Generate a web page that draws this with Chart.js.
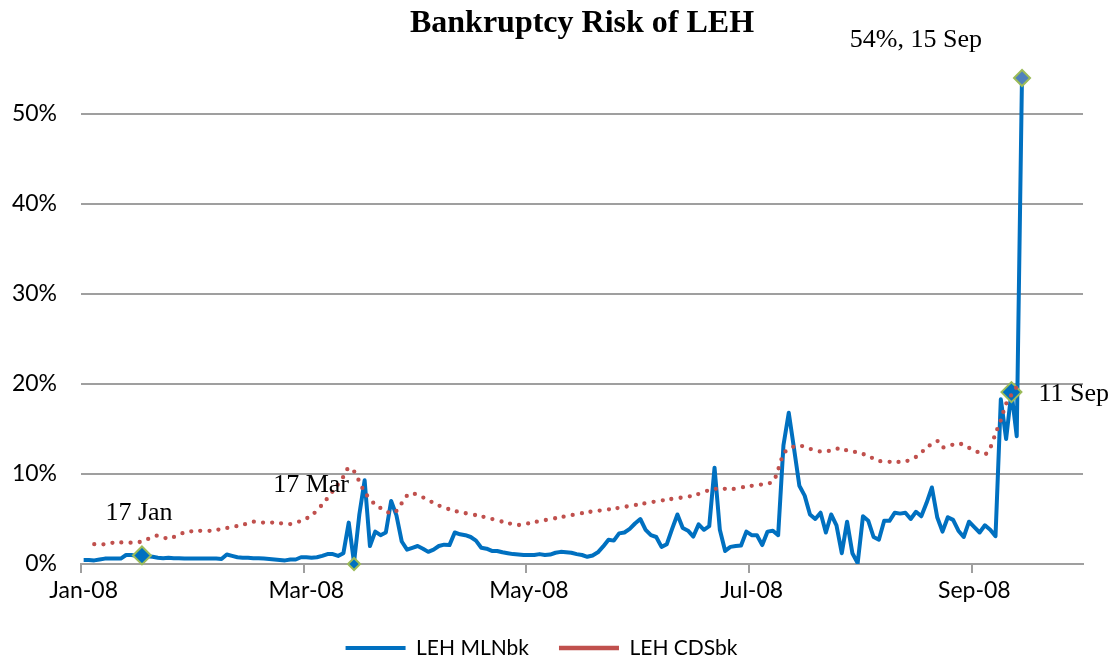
<!DOCTYPE html>
<html>
<head>
<meta charset="utf-8">
<script src="https://cdn.jsdelivr.net/npm/chart.js@4/dist/chart.umd.min.js"></script>
<style>
  html, body { margin: 0; padding: 0; background: #fff; }
</style>
</head>
<body>
<canvas id="lehChart" width="1113" height="662"></canvas>
<script>
/* ---- categories: trading days Jan 2 - Sep 30, 2008 ---- */
var holidays = ["2008-01-21", "2008-02-18", "2008-03-21", "2008-05-26", "2008-07-04", "2008-09-01"];
var days = [];
for (var t = Date.UTC(2008, 0, 2); t <= Date.UTC(2008, 8, 30); t += 86400000) {
  var d = new Date(t);
  var s = d.toISOString().slice(0, 10);
  if (d.getUTCDay() % 6 !== 0 && holidays.indexOf(s) < 0) days.push(s);
}

var tickLabels = ["Jan-08", "Mar-08", "May-08", "Jul-08", "Sep-08"];
var tickEvery = 42;

/* ---- LEH MLNbk, one value per trading day up to 15 Sep (%) ---- */
var mlnValues = [
  0.45, 0.45, 0.4, 0.5, 0.6, 0.6, 0.6, 0.6, 1.0, 1.0,
  0.9, 0.95, 0.85, 0.8, 0.7, 0.65, 0.7, 0.65, 0.65, 0.6,
  0.6, 0.6, 0.6, 0.6, 0.6, 0.6, 0.55, 1.05, 0.9, 0.75,
  0.7, 0.7, 0.65, 0.65, 0.6, 0.55, 0.5, 0.45, 0.4, 0.5,
  0.5, 0.75, 0.75, 0.7, 0.75, 0.9, 1.1, 1.1, 0.9, 1.2,
  4.6, 0.15, 5.5, 9.3, 2.0, 3.6, 3.2, 3.5, 7.0, 5.4,
  2.5, 1.6, 1.8, 2.0, 1.7, 1.35, 1.6, 2.0, 2.15, 2.1,
  3.5, 3.3, 3.2, 3.0, 2.6, 1.8, 1.7, 1.45, 1.45, 1.3,
  1.2, 1.1, 1.05, 1.0, 1.0, 1.0, 1.1, 1.0, 1.05, 1.25,
  1.35, 1.3, 1.25, 1.1, 1.0, 0.8, 0.95, 1.3, 1.95, 2.7,
  2.6, 3.4, 3.5, 3.9, 4.5, 5.0, 3.8, 3.2, 3.0, 1.9,
  2.2, 3.9, 5.5, 4.0, 3.7, 3.05, 4.4, 3.8, 4.2, 10.7,
  3.8, 1.45, 1.9, 2.0, 2.05, 3.6, 3.2, 3.2, 2.1, 3.6,
  3.7, 3.2, 13.2, 16.8, 12.8, 8.7, 7.6, 5.5, 5.0, 5.7,
  3.5, 5.5, 4.3, 1.2, 4.7, 1.2, 0.1, 5.3, 4.8, 3.0,
  2.7, 4.8, 4.8, 5.7, 5.6, 5.7, 5.0, 5.8, 5.3, 6.8,
  8.5, 5.2, 3.6, 5.2, 4.9, 3.7, 3.0, 4.7, 4.1, 3.5,
  4.3, 3.8, 3.1, 18.3, 13.9, 19.1, 14.2, 54.5
];

/* ---- LEH CDSbk, read at these trading-day positions (%) ---- */
var cdsIdx = [2, 4, 6, 9, 11, 13, 14, 16, 17, 19, 21, 24, 27, 30, 32, 34, 36, 39, 41, 43,
  45, 47, 49, 50, 51, 53, 55, 57, 58, 59, 61, 62, 64, 67, 70, 75, 80, 82, 85, 90,
  95, 100, 105, 110, 115, 118, 120, 122, 125, 128, 130, 131, 132, 133, 135, 137, 139, 141, 143, 144,
  146, 148, 150, 153, 155, 157, 159, 161, 162, 165, 167, 170, 171, 172, 173, 174, 175, 176];
var cdsVal = [2.2, 2.2, 2.4, 2.37, 2.5, 3.0, 3.15, 2.8, 3.0, 3.5, 3.67, 3.7, 4.0, 4.35, 4.7, 4.6, 4.6, 4.44, 4.8, 5.4,
  6.6, 8.1, 9.7, 10.7, 10.3, 8.0, 6.6, 5.9, 5.6, 5.9, 7.6, 7.85, 7.4, 6.5, 5.9, 5.3, 4.55, 4.33, 4.65, 5.2,
  5.75, 6.15, 6.65, 7.15, 7.6, 8.2, 8.4, 8.3, 8.6, 8.85, 9.15, 10.5, 12.2, 12.8, 13.15, 12.8, 12.5, 12.6, 12.9, 12.6,
  12.4, 12.0, 11.45, 11.35, 11.4, 11.9, 12.9, 13.67, 12.96, 13.4, 12.9, 12.2, 12.9, 14.5, 16.0, 17.8, 18.8, 19.7];

/* ---- highlighted days ---- */
var markerIdx = [11, 51, 175, 177];
var markerVal = [0.95, 0, 19.1, 54];
var markerText = ["17 Jan", "17 Mar", "11 Sep", "54%, 15 Sep"];

var axisFont = { family: "Lato", size: 23 };
var gridGray = "#9f9f9f";

// text next to the highlighted points: [dx, dy, align]
var labelOffset = [[-3, -42, "center"], [-5, -79, "right"], [27, 2, "left"], [-40, -38, "right"]];

var pointLabels = {
  id: "pointLabels",
  afterDatasetsDraw: function (chart) {
    var ctx = chart.ctx, xs = chart.scales.x, ys = chart.scales.y;
    ctx.save();
    ctx.font = '26px "Liberation Serif"';
    ctx.fillStyle = "#000";
    ctx.textBaseline = "middle";
    markerIdx.forEach(function (idx, k) {
      var o = labelOffset[k];
      ctx.textAlign = o[2];
      ctx.fillText(markerText[k], xs.getPixelForValue(idx) + o[0], ys.getPixelForValue(markerVal[k]) + o[1]);
    });
    ctx.restore();
  }
};

function tickShade(c) {
  return c.index !== undefined && c.index % tickEvery === 0 ? gridGray : "rgba(0,0,0,0)";
}

new Chart("lehChart", {
  type: "line",
  data: {
    labels: days,
    datasets: [{
      label: "LEH MLNbk",
      data: mlnValues,
      borderColor: "#0070c0",
      backgroundColor: "#0070c0",
      borderWidth: 4,
      borderJoinStyle: "round",
      pointRadius: 0,
      tension: 0,
      order: 3
    }, {
      label: "LEH CDSbk",
      data: cdsIdx.map(function (i, k) { return { x: days[i], y: cdsVal[k] }; }),
      borderColor: "#c0504d",
      backgroundColor: "#c0504d",
      borderWidth: 4.3,
      borderDash: [0, 9.1],
      borderCapStyle: "round",
      pointRadius: 0,
      tension: 0.3,
      order: 1
    }, {
      label: "markers",
      data: markerIdx.map(function (i, k) { return { x: days[i], y: markerVal[k] }; }),
      showLine: false,
      pointStyle: "rectRot",
      pointRadius: [9, 6, 10, 8],
      pointBackgroundColor: ["#0070c0", "#0070c0", "#0070c0", "#4f81bd"],
      pointBorderColor: "#9bbb59",
      pointBorderWidth: 2,
      clip: false,
      order: 2
    }]
  },
  options: {
    responsive: false,
    animation: false,
    events: [],
    layout: { padding: { left: 0, right: 30, top: 0, bottom: -6.5 } },
    plugins: {
      title: {
        display: true,
        fullSize: false,
        text: "Bankruptcy Risk of LEH",
        color: "#000",
        font: { family: "Liberation Serif", size: 32, weight: "bold" },
        padding: { top: 5, bottom: 25.6 }
      },
      legend: {
        position: "bottom",
        labels: {
          usePointStyle: true,
          pointStyle: "line",
          pointStyleWidth: 60,
          padding: 30,
          color: "#000",
          font: { family: "Lato", size: 21 },
          filter: function (item) { return item.datasetIndex < 2; },
          sort: function (a, b) { return a.datasetIndex - b.datasetIndex; }
        }
      },
      tooltip: { enabled: false }
    },
    scales: {
      x: {
        type: "category",
        offset: true,
        grid: {
          offset: true,
          drawOnChartArea: false,
          drawTicks: true,
          tickLength: 9,
          lineWidth: 2,
          color: tickShade,
          tickColor: tickShade
        },
        border: { display: true, color: gridGray, width: 2 },
        ticks: {
          autoSkip: false,
          maxRotation: 0,
          minRotation: 0,
          padding: 4,
          color: "#000",
          font: axisFont,
          callback: function (v, i) { return i % tickEvery === 0 ? tickLabels[i / tickEvery] : ""; }
        },
        afterFit: function (s) { s.height = 43.5; }
      },
      y: {
        min: 0,
        max: 55,
        ticks: {
          stepSize: 10,
          padding: 24,
          color: "#000",
          font: axisFont,
          callback: function (v) { return v + "%"; }
        },
        grid: { color: gridGray, lineWidth: 2, drawTicks: false },
        border: { display: false },
        afterBuildTicks: function (s) { s.ticks = s.ticks.filter(function (t) { return t.value % 10 === 0; }); },
        afterFit: function (s) { s.width = 81; }
      }
    }
  },
  plugins: [pointLabels]
});
</script>
</body>
</html>
